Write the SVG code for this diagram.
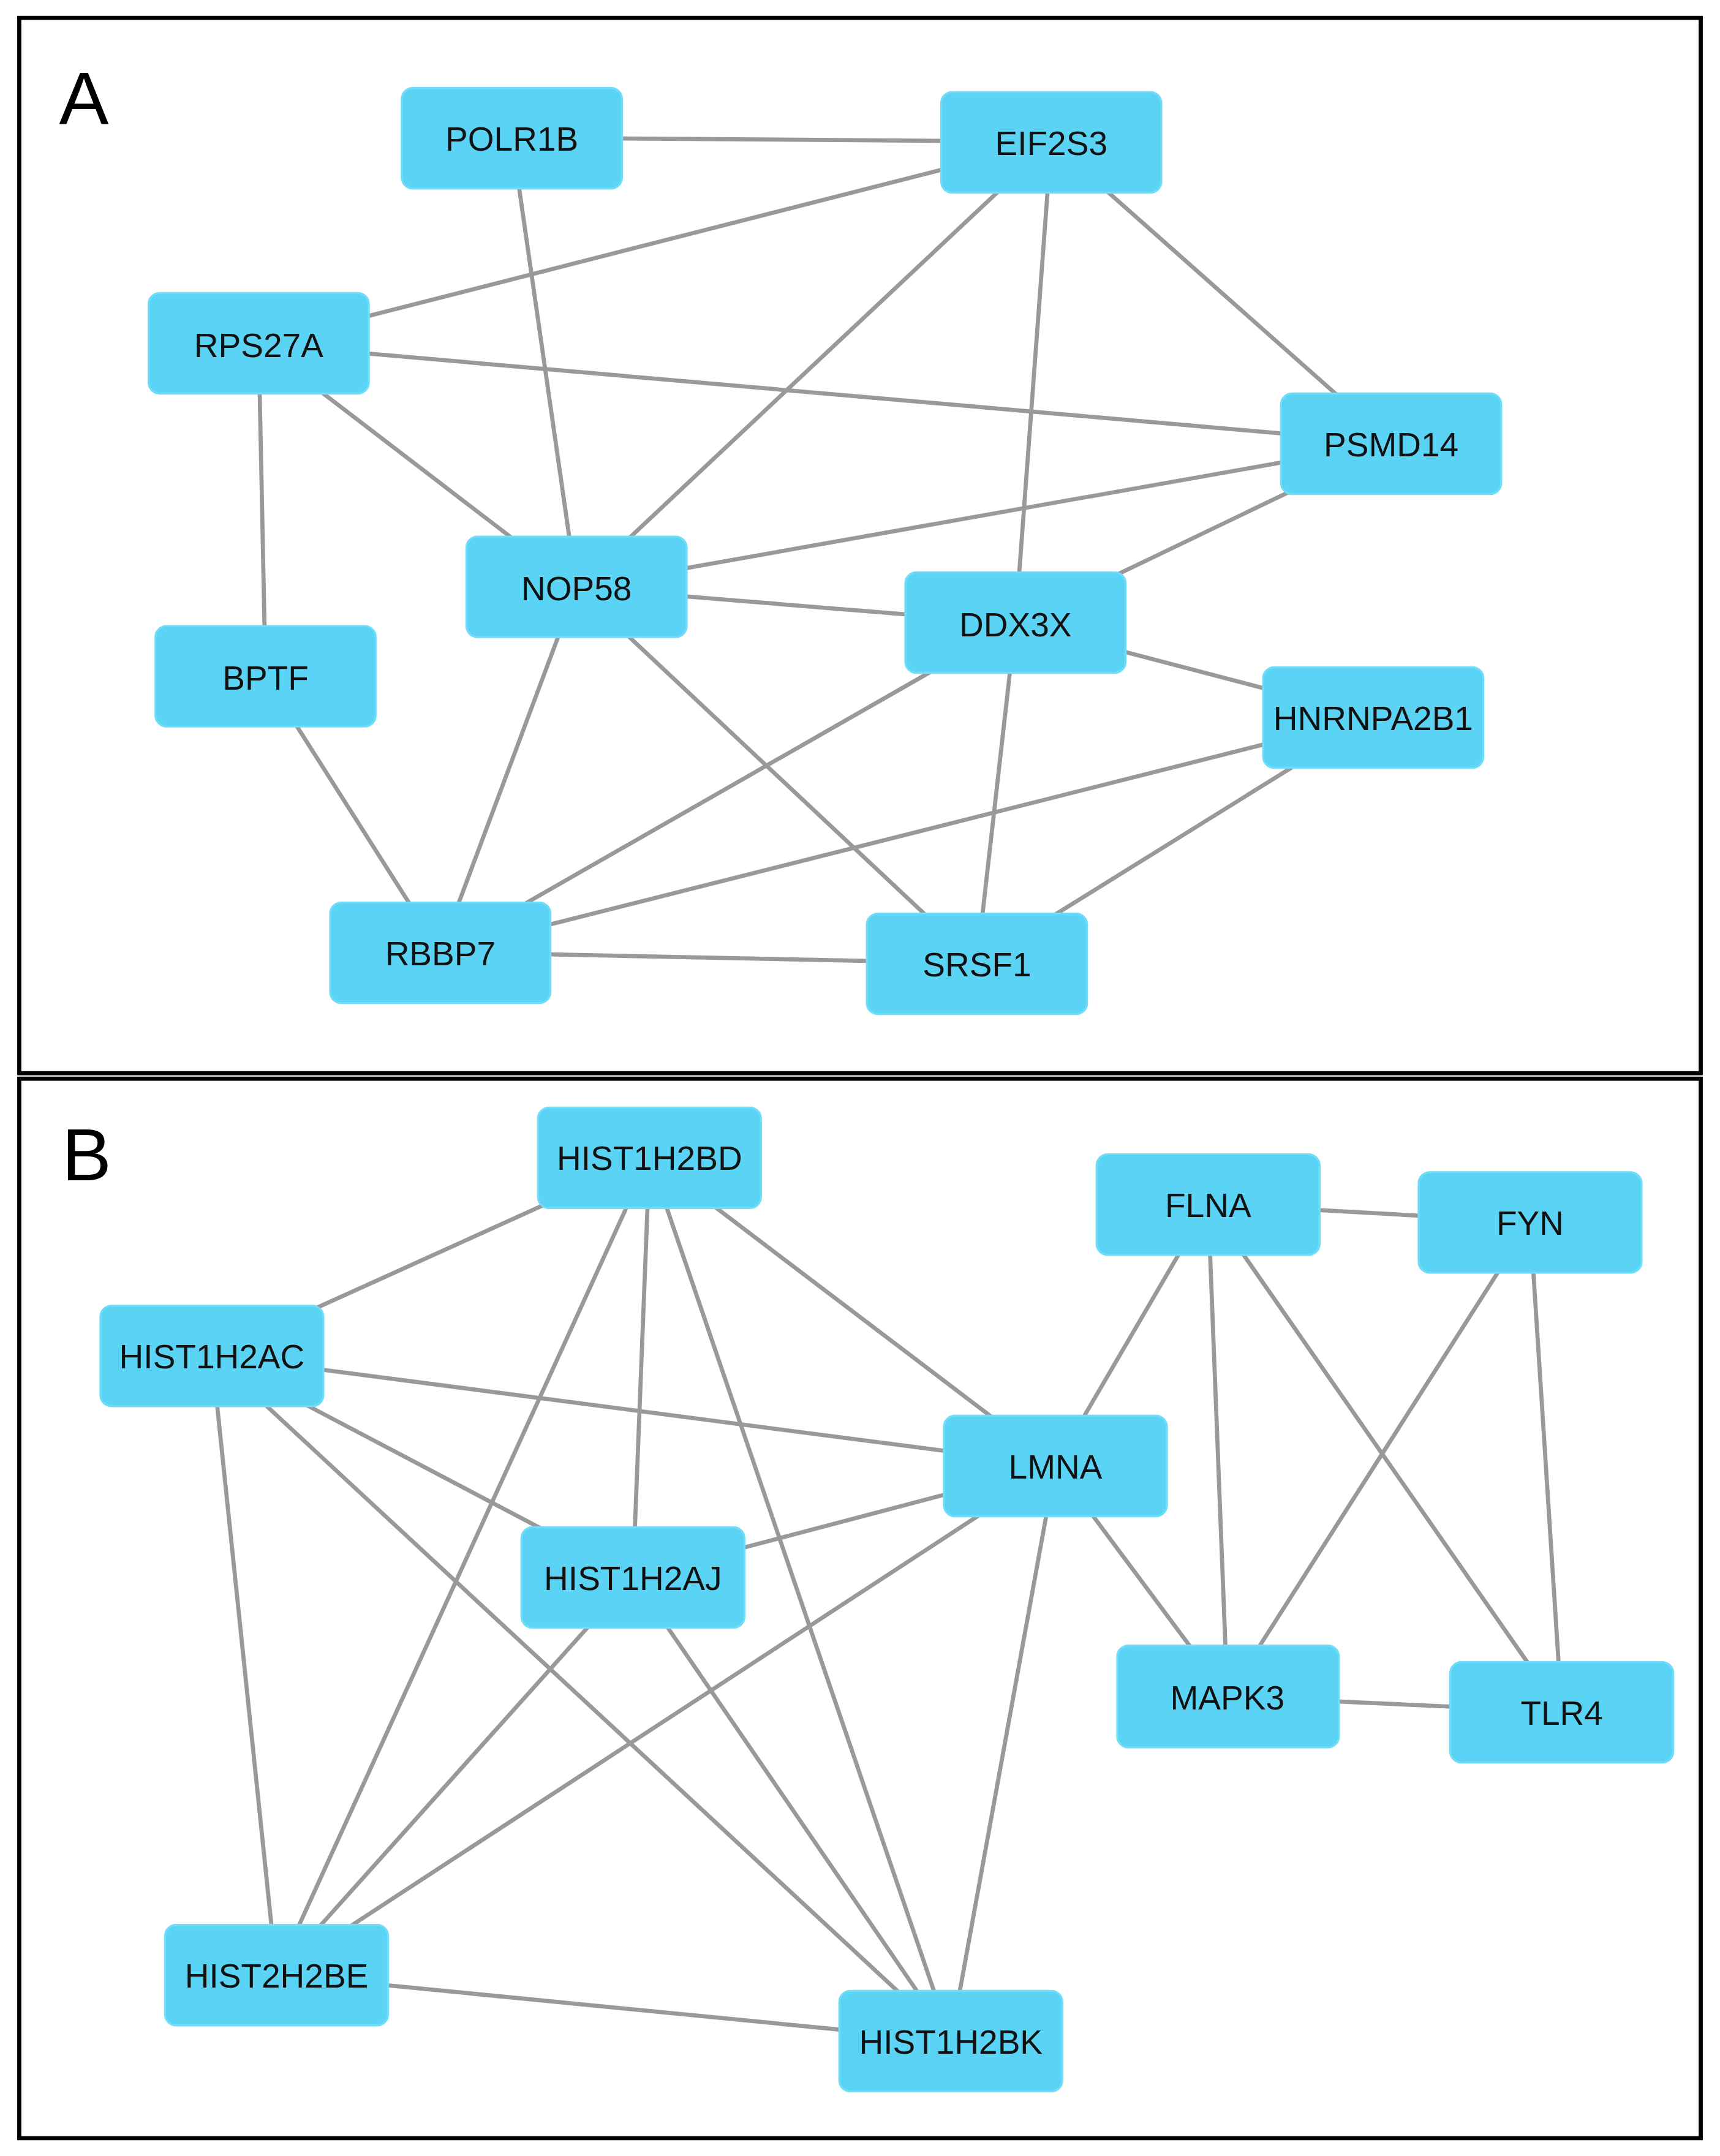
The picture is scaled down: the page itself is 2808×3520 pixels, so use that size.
<svg xmlns="http://www.w3.org/2000/svg" width="2808" height="3520" viewBox="0 0 2808 3520">
<style>
.n rect{fill:#5bd3f5;stroke:#6fdcf8;stroke-width:1.5}
.n text{font-family:"Liberation Sans",Arial,sans-serif;font-size:24.5px;fill:#111;text-anchor:middle;dominant-baseline:central}
.e line{stroke:#999;stroke-width:3}
.lab{font-family:"Liberation Sans",Arial,sans-serif;font-size:54px;fill:#000}
.fr{fill:none;stroke:#000;stroke-width:3}
</style>
<rect width="2808" height="3520" fill="#fff"/>
<g transform="scale(2.2464)">
<rect class="fr" x="14" y="13" width="1222" height="767"/>
<rect class="fr" x="14" y="784" width="1222" height="770"/>
<text class="lab" x="43" y="90">A</text>
<text class="lab" x="45" y="858">B</text>
<g class="e" id="connectors">
<line x1="372" y1="100" x2="764" y2="103"/>
<line x1="372" y1="100" x2="419" y2="427"/>
<line x1="764" y1="103" x2="188" y2="250"/>
<line x1="764" y1="103" x2="419" y2="427"/>
<line x1="764" y1="103" x2="738" y2="453"/>
<line x1="764" y1="103" x2="1011" y2="322"/>
<line x1="188" y1="250" x2="1011" y2="322"/>
<line x1="188" y1="250" x2="419" y2="427"/>
<line x1="188" y1="250" x2="193" y2="492"/>
<line x1="419" y1="427" x2="1011" y2="322"/>
<line x1="419" y1="427" x2="738" y2="453"/>
<line x1="419" y1="427" x2="320" y2="692"/>
<line x1="419" y1="427" x2="710" y2="700"/>
<line x1="1011" y1="322" x2="738" y2="453"/>
<line x1="738" y1="453" x2="998" y2="521"/>
<line x1="738" y1="453" x2="320" y2="692"/>
<line x1="738" y1="453" x2="710" y2="700"/>
<line x1="193" y1="492" x2="320" y2="692"/>
<line x1="998" y1="521" x2="320" y2="692"/>
<line x1="998" y1="521" x2="710" y2="700"/>
<line x1="320" y1="692" x2="710" y2="700"/>
<line x1="472" y1="841" x2="154" y2="985"/>
<line x1="472" y1="841" x2="767" y2="1065"/>
<line x1="472" y1="841" x2="460" y2="1146"/>
<line x1="472" y1="841" x2="201" y2="1435"/>
<line x1="472" y1="841" x2="691" y2="1483"/>
<line x1="154" y1="985" x2="767" y2="1065"/>
<line x1="154" y1="985" x2="460" y2="1146"/>
<line x1="154" y1="985" x2="201" y2="1435"/>
<line x1="154" y1="985" x2="691" y2="1483"/>
<line x1="767" y1="1065" x2="460" y2="1146"/>
<line x1="767" y1="1065" x2="201" y2="1435"/>
<line x1="767" y1="1065" x2="691" y2="1483"/>
<line x1="767" y1="1065" x2="878" y2="875"/>
<line x1="767" y1="1065" x2="892" y2="1233"/>
<line x1="460" y1="1146" x2="201" y2="1435"/>
<line x1="460" y1="1146" x2="691" y2="1483"/>
<line x1="201" y1="1435" x2="691" y2="1483"/>
<line x1="878" y1="875" x2="1112" y2="888"/>
<line x1="878" y1="875" x2="892" y2="1233"/>
<line x1="878" y1="875" x2="1135" y2="1244"/>
<line x1="1112" y1="888" x2="892" y2="1233"/>
<line x1="1112" y1="888" x2="1135" y2="1244"/>
<line x1="892" y1="1233" x2="1135" y2="1244"/>
</g>
<g class="n" id="POLR1B"><rect x="292" y="64" width="160" height="73" rx="8"/><text x="372" y="101">POLR1B</text></g>
<g class="n" id="EIF2S3"><rect x="684" y="67" width="160" height="73" rx="8"/><text x="764" y="104">EIF2S3</text></g>
<g class="n" id="RPS27A"><rect x="108" y="213" width="160" height="73" rx="8"/><text x="188" y="251">RPS27A</text></g>
<g class="n" id="PSMD14"><rect x="931" y="286" width="160" height="73" rx="8"/><text x="1011" y="323">PSMD14</text></g>
<g class="n" id="NOP58"><rect x="339" y="390" width="160" height="73" rx="8"/><text x="419" y="428">NOP58</text></g>
<g class="n" id="DDX3X"><rect x="658" y="416" width="160" height="73" rx="8"/><text x="738" y="454">DDX3X</text></g>
<g class="n" id="BPTF"><rect x="113" y="455" width="160" height="73" rx="8"/><text x="193" y="493">BPTF</text></g>
<g class="n" id="HNRNPA2B1"><rect x="918" y="485" width="160" height="73" rx="8"/><text x="998" y="522">HNRNPA2B1</text></g>
<g class="n" id="RBBP7"><rect x="240" y="656" width="160" height="73" rx="8"/><text x="320" y="693">RBBP7</text></g>
<g class="n" id="SRSF1"><rect x="630" y="664" width="160" height="73" rx="8"/><text x="710" y="701">SRSF1</text></g>
<g class="n" id="HIST1H2BD"><rect x="391" y="805" width="162" height="73" rx="8"/><text x="472" y="842">HIST1H2BD</text></g>
<g class="n" id="FLNA"><rect x="797" y="839" width="162" height="73" rx="8"/><text x="878" y="876">FLNA</text></g>
<g class="n" id="FYN"><rect x="1031" y="852" width="162" height="73" rx="8"/><text x="1112" y="889">FYN</text></g>
<g class="n" id="HIST1H2AC"><rect x="73" y="949" width="162" height="73" rx="8"/><text x="154" y="986">HIST1H2AC</text></g>
<g class="n" id="LMNA"><rect x="686" y="1029" width="162" height="73" rx="8"/><text x="767" y="1066">LMNA</text></g>
<g class="n" id="HIST1H2AJ"><rect x="379" y="1110" width="162" height="73" rx="8"/><text x="460" y="1147">HIST1H2AJ</text></g>
<g class="n" id="MAPK3"><rect x="812" y="1196" width="161" height="74" rx="8"/><text x="892" y="1234">MAPK3</text></g>
<g class="n" id="TLR4"><rect x="1054" y="1208" width="162" height="73" rx="8"/><text x="1135" y="1245">TLR4</text></g>
<g class="n" id="HIST2H2BE"><rect x="120" y="1399" width="162" height="73" rx="8"/><text x="201" y="1436">HIST2H2BE</text></g>
<g class="n" id="HIST1H2BK"><rect x="610" y="1447" width="162" height="73" rx="8"/><text x="691" y="1484">HIST1H2BK</text></g>
</g>
</svg>
